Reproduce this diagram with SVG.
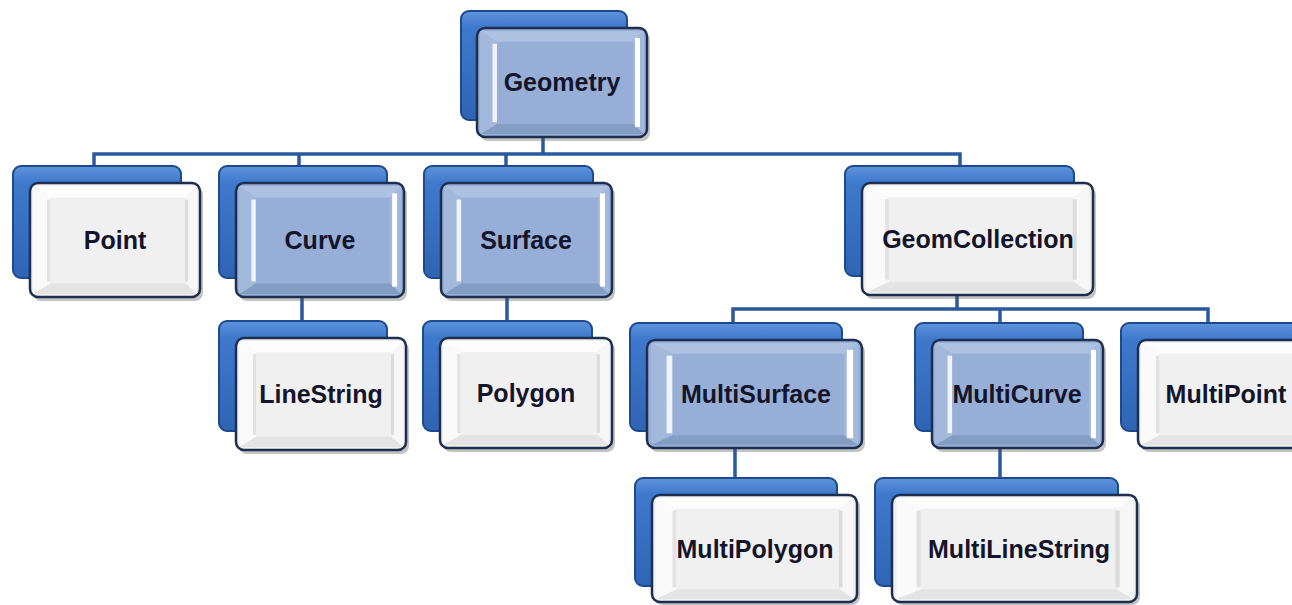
<svg xmlns="http://www.w3.org/2000/svg" xmlns:xlink="http://www.w3.org/1999/xlink" width="1292" height="605" viewBox="0 0 1292 605">
<style>
.back{fill:url(#gBack);stroke:#1d4a8c;stroke-width:2}
.shadow{fill:#555;opacity:.35}
.fBlue{fill:#97afd6;stroke:#1c2f4f;stroke-width:2.5}
.fWhite{fill:#f0f0f0;stroke:#1c2f4f;stroke-width:2.5}
.lbl{font-family:"Liberation Sans",Arial,sans-serif;font-weight:bold;font-size:25px;fill:#14142a;text-anchor:middle}
.conn{fill:none;stroke:#2a5a9e;stroke-width:3.5;stroke-linecap:square}
</style>
<defs>
<linearGradient id="gBack" x1="0" y1="0" x2="0" y2="1">
<stop offset="0" stop-color="#5e93dc"/>
<stop offset="0.15" stop-color="#3f79cc"/>
<stop offset="1" stop-color="#2f64b3"/>
</linearGradient>
<symbol id="bevBlue" viewBox="0 0 170 110" preserveAspectRatio="none">
<polygon points="3,3 167,3 156,14 20,14" fill="#adc1e2"/>
<polygon points="3,107 167,107 156,97 20,97" fill="#869dc3"/>
<polygon points="3,3 20,14 20,97 3,107" fill="#a3b9dc"/>
<polygon points="167,3 156,14 156,97 167,107" fill="#a3b9dc"/>
<rect x="15.5" y="16" width="4.5" height="79" fill="#eef3fc"/>
<rect x="158" y="10" width="5" height="90" fill="#ffffff"/>
</symbol>
<symbol id="bevWhite" viewBox="0 0 170 110" preserveAspectRatio="none">
<polygon points="3,3 167,3 156,14 20,14" fill="#fdfdfd"/>
<polygon points="3,107 167,107 156,97 20,97" fill="#e4e4e4"/>
<polygon points="3,3 20,14 20,97 3,107" fill="#fafafa"/>
<polygon points="167,3 156,14 156,97 167,107" fill="#f7f7f7"/>
<rect x="17" y="16" width="3" height="79" fill="#e2e2e2"/>
<rect x="155" y="16" width="3" height="79" fill="#dcdcdc"/>
</symbol>
</defs>
<rect width="1292" height="605" fill="#ffffff"/>

<g id="connectors">
<path class="conn" d="M543,137 V154 M94,154 H960 M94,154 V166 M299,154 V166 M506,154 V166 M960,154 V166"/>
<path class="conn" d="M302,297 V321 M507,297 V321"/>
<path class="conn" d="M957,295 V309 M733,309 H1208 M733,309 V323 M1000,309 V323 M1208,309 V323"/>
<path class="conn" d="M735,448 V478 M1000,448 V478"/>
</g>

<g id="node-geometry">
<rect class="back" x="461" y="11" width="166" height="109" rx="8"/>
<rect class="shadow" x="480" y="32" width="170" height="109" rx="8"/>
<rect class="fBlue" x="477" y="28" width="170" height="109" rx="8"/>
<use xlink:href="#bevBlue" x="477" y="28" width="170" height="109"/>
<text class="lbl" x="562" y="91">Geometry</text>
</g>

<g id="node-point">
<rect class="back" x="13" y="166" width="168" height="112" rx="8"/>
<rect class="shadow" x="33" y="187" width="170" height="114" rx="8"/>
<rect class="fWhite" x="30" y="183" width="170" height="114" rx="8"/>
<use xlink:href="#bevWhite" x="30" y="183" width="170" height="114"/>
<text class="lbl" x="115" y="249">Point</text>
</g>

<g id="node-curve">
<rect class="back" x="219" y="166" width="168" height="112" rx="8"/>
<rect class="shadow" x="239" y="187" width="168" height="114" rx="8"/>
<rect class="fBlue" x="236" y="183" width="168" height="114" rx="8"/>
<use xlink:href="#bevBlue" x="236" y="183" width="168" height="114"/>
<text class="lbl" x="320" y="249">Curve</text>
</g>

<g id="node-surface">
<rect class="back" x="424" y="166" width="169" height="112" rx="8"/>
<rect class="shadow" x="444" y="187" width="171" height="114" rx="8"/>
<rect class="fBlue" x="441" y="183" width="171" height="114" rx="8"/>
<use xlink:href="#bevBlue" x="441" y="183" width="171" height="114"/>
<text class="lbl" x="526" y="249">Surface</text>
</g>

<g id="node-geomcollection">
<rect class="back" x="845" y="166" width="229" height="110" rx="8"/>
<rect class="shadow" x="865" y="187" width="231" height="112" rx="8"/>
<rect class="fWhite" x="862" y="183" width="231" height="112" rx="8"/>
<use xlink:href="#bevWhite" x="862" y="183" width="231" height="112"/>
<text class="lbl" x="978" y="248">GeomCollection</text>
</g>

<g id="node-linestring">
<rect class="back" x="219" y="321" width="168" height="110" rx="8"/>
<rect class="shadow" x="239" y="342" width="170" height="112" rx="8"/>
<rect class="fWhite" x="236" y="338" width="170" height="112" rx="8"/>
<use xlink:href="#bevWhite" x="236" y="338" width="170" height="112"/>
<text class="lbl" x="321" y="403">LineString</text>
</g>

<g id="node-polygon">
<rect class="back" x="423" y="321" width="169" height="110" rx="8"/>
<rect class="shadow" x="443" y="342" width="172" height="110" rx="8"/>
<rect class="fWhite" x="440" y="338" width="172" height="110" rx="8"/>
<use xlink:href="#bevWhite" x="440" y="338" width="172" height="110"/>
<text class="lbl" x="526" y="402">Polygon</text>
</g>

<g id="node-multisurface">
<rect class="back" x="630" y="323" width="212" height="108" rx="8"/>
<rect class="shadow" x="650" y="344" width="215" height="108" rx="8"/>
<rect class="fBlue" x="647" y="340" width="215" height="108" rx="8"/>
<use xlink:href="#bevBlue" x="647" y="340" width="215" height="108"/>
<text class="lbl" x="756" y="403">MultiSurface</text>
</g>

<g id="node-multicurve">
<rect class="back" x="915" y="323" width="168" height="108" rx="8"/>
<rect class="shadow" x="935" y="344" width="171" height="108" rx="8"/>
<rect class="fBlue" x="932" y="340" width="171" height="108" rx="8"/>
<use xlink:href="#bevBlue" x="932" y="340" width="171" height="108"/>
<text class="lbl" x="1017" y="403">MultiCurve</text>
</g>

<g id="node-multipoint">
<rect class="back" x="1121" y="323" width="180" height="108" rx="8"/>
<rect class="shadow" x="1141" y="344" width="180" height="108" rx="8"/>
<rect class="fWhite" x="1138" y="340" width="180" height="108" rx="8"/>
<use xlink:href="#bevWhite" x="1138" y="340" width="180" height="108"/>
<text class="lbl" x="1226" y="403">MultiPoint</text>
</g>

<g id="node-multipolygon">
<rect class="back" x="635" y="478" width="202" height="108" rx="8"/>
<rect class="shadow" x="655" y="499" width="205" height="106" rx="8"/>
<rect class="fWhite" x="652" y="495" width="205" height="107" rx="8"/>
<use xlink:href="#bevWhite" x="652" y="495" width="205" height="107"/>
<text class="lbl" x="755" y="558">MultiPolygon</text>
</g>

<g id="node-multilinestring">
<rect class="back" x="875" y="478" width="243" height="108" rx="8"/>
<rect class="shadow" x="895" y="499" width="245" height="106" rx="8"/>
<rect class="fWhite" x="892" y="495" width="245" height="107" rx="8"/>
<use xlink:href="#bevWhite" x="892" y="495" width="245" height="107"/>
<text class="lbl" x="1019" y="558">MultiLineString</text>
</g>
</svg>
